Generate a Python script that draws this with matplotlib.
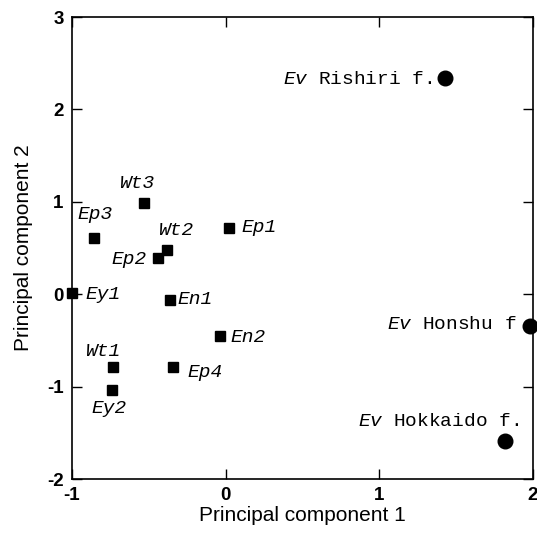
import numpy as np
import matplotlib
matplotlib.use('Agg')
import matplotlib.pyplot as plt
from matplotlib import rc

rc('mathtext', fontset='custom', it='Liberation Mono:italic', rm='Liberation Mono')
rc('axes', unicode_minus=False)

# accessions (squares) and Ev forms (circles)
sq_names = ['Wt3', 'Ep3', 'Wt2', 'Ep2', 'Ep1', 'Ey1', 'En1', 'En2', 'Wt1', 'Ep4', 'Ey2']
sq_pc1 = [-0.53, -0.86, -0.38, -0.44, 0.02, -1.0, -0.36, -0.04, -0.73, -0.34, -0.74]
sq_pc2 = [0.99, 0.61, 0.48, 0.39, 0.72, 0.01, -0.06, -0.45, -0.79, -0.79, -1.04]

ev_names = ['Rishiri f.', 'Honshu f', 'Hokkaido f.']
ev_pc1 = [1.43, 1.98, 1.82]
ev_pc2 = [2.34, -0.34, -1.59]

# label offsets in points, alignment
sq_off = [(-5, 14, 'center'), (1, 17, 'center'), (7, 14, 'center'), (-8, -1, 'right'),
          (9, 0, 'left'), (10, -1, 'left'), (5, 0, 'left'), (8, -1, 'left'),
          (-7, 11, 'center'), (10, -4, 'left'), (-2, -13, 'center')]
ev_off = [(-9, -1, 'right'), (-10, 1, 'right'), (10, 14, 'right')]

fig = plt.figure(figsize=(5.37, 5.33), dpi=100)
ax = fig.add_axes([72/537, 1 - 479/533, 461/537, 462/533])

ax.plot(sq_pc1, sq_pc2, 's', color='black', ms=7.2, ls='none', clip_on=False)
ax.plot(ev_pc1, ev_pc2, 'o', color='black', ms=10.5, ls='none', clip_on=False)

for n, x, y, (dx, dy, ha) in zip(sq_names, sq_pc1, sq_pc2, sq_off):
    ax.annotate(n, (x, y), xytext=(dx, dy), textcoords='offset points', ha=ha, va='center',
                fontsize=14, family='Liberation Mono', style='italic')
for n, x, y, (dx, dy, ha) in zip(ev_names, ev_pc1, ev_pc2, ev_off):
    ax.annotate(r'$\mathit{Ev}$ ' + n, (x, y), xytext=(dx, dy), textcoords='offset points',
                ha=ha, va='center', fontsize=14, family='Liberation Mono')

ax.set_xlim(-1, 2)
ax.set_ylim(-2, 3)
ax.set_xticks([-1, 0, 1, 2])
ax.set_yticks([-2, -1, 0, 1, 2, 3])
ax.tick_params(direction='in', length=7, width=1, top=True, right=True, labelsize=13.5, pad=6)
for lab in ax.get_xticklabels() + ax.get_yticklabels():
    lab.set_fontweight('bold')
    lab.set_family('Liberation Sans')
for s in ax.spines.values():
    s.set_linewidth(1.2)

ax.set_xlabel('Principal component 1', fontsize=15, family='Liberation Sans', labelpad=1)
ax.set_ylabel('Principal component 2', fontsize=15, family='Liberation Sans', labelpad=10)

fig.savefig('out.png', dpi=100)
